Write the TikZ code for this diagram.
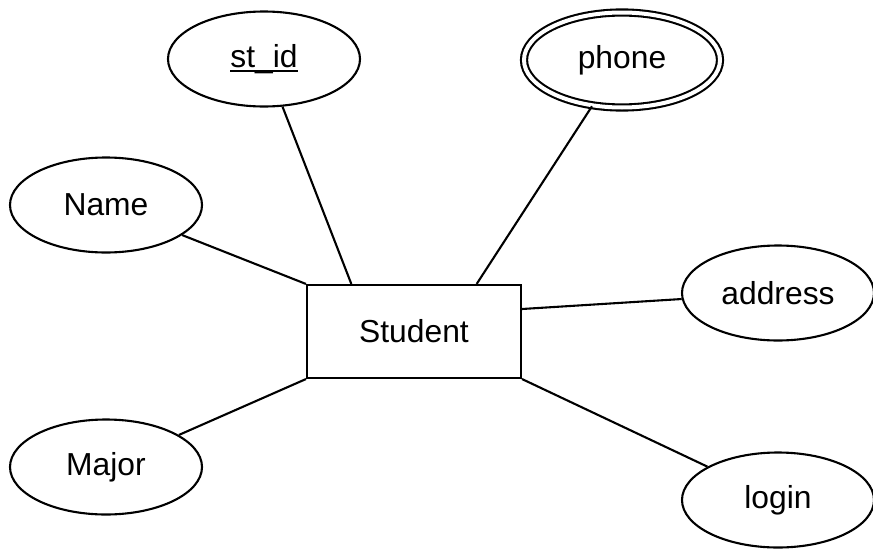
\documentclass[tikz,border=0pt]{standalone}
\usepackage{fontspec}
\setmainfont{Liberation Sans}
\usetikzlibrary{shapes.geometric,calc}
\newcommand\ulinedtext[1]{\setbox0\hbox{#1}\rlap{\rule[-4.4pt]{\wd0}{2.2pt}}\box0}
\begin{document}
\begin{tikzpicture}[x=1pt,y=-1pt,
  every node/.style={font=\fontsize{31.8}{36}\selectfont},
  attr/.style={draw, line width=2.1pt, ellipse, minimum width=192pt, minimum height=95pt, inner sep=0pt},
  multattr/.style={draw, line width=2.1pt, ellipse, double, double distance=4pt, minimum width=196pt, minimum height=95pt, inner sep=0pt},
  entity/.style={draw, line width=2.1pt, rectangle, minimum width=214pt, minimum height=93pt, inner sep=0pt},
  link/.style={line width=2.1pt}]
\useasboundingbox[fill=white] (0,0) rectangle (873,549);
\node[entity] (student) at (414,331.5) {Student};
\node[attr] (stid) at (264,59) {\ulinedtext{st\_id}};
\node[multattr] (phone) at (622,60) {phone};
\node[attr] (name) at (106,205) {Name};
\node[attr] (address) at (778,293) {address};
\node[attr] (major) at (106,467) {Major};
\node[attr] (login) at (778,500) {login};
\draw[link] (stid) -- ($(student.north west)!0.21!(student.north east)$);
\draw[link] (phone) -- ($(student.north west)!0.79!(student.north east)$);
\draw[link] (name) -- (student.north west);
\draw[link] (address) -- ($(student.east)+(0,-22.5)$);
\draw[link] (major) -- (student.south west);
\draw[link] (login) -- (student.south east);
\end{tikzpicture}
\end{document}
